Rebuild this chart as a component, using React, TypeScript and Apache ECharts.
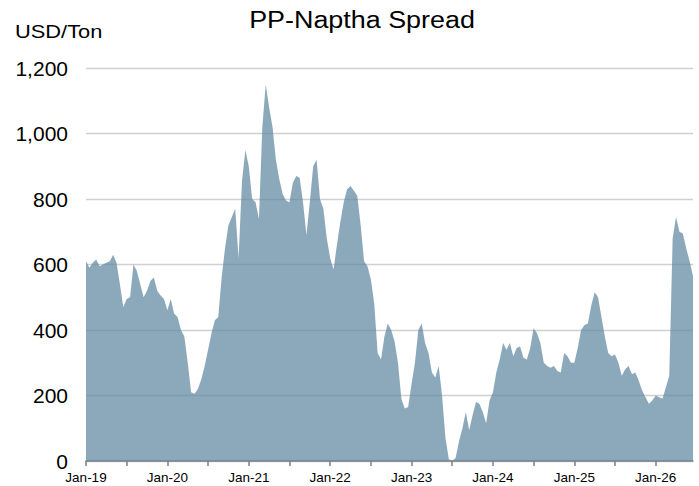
import React, { useEffect, useRef } from "react";
import * as echarts from "echarts";

const MONTHS = ["Jan", "Feb", "Mar", "Apr", "May", "Jun", "Jul", "Aug", "Sep", "Oct", "Nov", "Dec"];
const START_YEAR = 2019;
const POINT_COUNT = 180; // semi-monthly points, Jan-19 .. Jun-26

const spreadValues: number[] = [
  // 2019
  610, 590, 605, 615, 595, 600, 605, 610, 630, 605, 540, 470,
  495, 500, 600, 580, 540, 500, 520, 550, 560, 520, 505, 495,
  // 2020
  460, 495, 450, 440, 400, 380, 300, 210, 205, 220, 250, 290,
  340, 390, 430, 440, 560, 650, 720, 745, 770, 620, 855, 950,
  // 2021
  900, 800, 790, 740, 1020, 1150, 1080, 1020, 920, 860, 815, 795,
  790, 850, 870, 865, 790, 690, 790, 900, 920, 800, 770, 680,
  // 2022
  620, 585, 660, 730, 790, 830, 840, 825, 810, 720, 610, 595,
  555, 480, 330, 310, 380, 420, 400, 365, 300, 190, 160, 165,
  // 2023
  235, 300, 400, 420, 360, 330, 270, 255, 290, 200, 70, 5,
  0, 10, 60, 100, 150, 95, 140, 180, 175, 150, 115, 185,
  // 2024
  210, 270, 310, 360, 340, 360, 320, 345, 350, 315, 310, 345,
  405, 390, 360, 300, 290, 285, 290, 275, 270, 330, 320, 300,
  // 2025
  300, 345, 400, 415, 420, 475, 515, 500, 440, 380, 330, 320,
  325, 300, 260, 280, 290, 265, 270, 245, 215, 195, 175, 185,
  // 2026
  200, 195, 190, 225, 260, 680, 745, 700, 695, 650, 610, 565,
];

const yTicks = [0, 200, 400, 600, 800, 1000, 1200];

const dateCategories: string[] = Array.from({ length: POINT_COUNT }, (_, i) => {
  const y = START_YEAR + Math.floor(i / 24);
  const m = Math.floor((i % 24) / 2);
  const d = i % 2 === 0 ? "01" : "15";
  return `${y}-${String(m + 1).padStart(2, "0")}-${d}`;
});

const TITLE = "PP-Naptha Spread";
const UNIT = "USD/Ton";

export default function App() {
  const ref = useRef<HTMLDivElement>(null);

  useEffect(() => {
    if (!ref.current) return;
    const chart = echarts.init(ref.current, undefined, { renderer: "svg" });
    const font = "'Liberation Sans', Arial, sans-serif";
    chart.setOption({
      animation: false,
      backgroundColor: "#ffffff",
      textStyle: { fontFamily: font },
      grid: {
        left: 86,
        right: 6,
        top: 68,
        bottom: 25,
        containLabel: false,
        outerBoundsMode: "none",
      },
      graphic: [
        {
          type: "text",
          x: 362,
          y: 20,
          scaleX: 1.17,
          style: {
            text: TITLE,
            fontSize: 23,
            fontFamily: font,
            fill: "#000000",
            textAlign: "center",
            textVerticalAlign: "middle",
          },
        },
        {
          type: "text",
          x: 15,
          y: 31,
          scaleX: 1.15,
          style: {
            text: UNIT,
            fontSize: 19,
            fontFamily: font,
            fill: "#000000",
            textAlign: "left",
            textVerticalAlign: "middle",
          },
        },
      ],
      xAxis: {
        type: "category",
        data: dateCategories,
        boundaryGap: false,
        axisLine: { show: true, lineStyle: { color: "#7f7f7f", width: 1.5 } },
        axisTick: {
          show: true,
          length: 5,
          interval: (index: number) => index % 12 === 0,
          lineStyle: { color: "#7f7f7f", width: 1.5 },
        },
        axisLabel: {
          interval: (index: number) => index % 24 === 0,
          formatter: (v: string) => {
            const [y, m] = v.split("-");
            return `${MONTHS[Number(m) - 1]}-${y.slice(2)}`;
          },
          fontSize: 13.5,
          color: "#000000",
          margin: 9,
          fontFamily: font,
        },
        splitLine: { show: false },
      },
      yAxis: {
        type: "value",
        min: yTicks[0],
        max: yTicks[yTicks.length - 1],
        interval: 200,
        axisLine: { show: false },
        axisTick: { show: false },
        axisLabel: {
          fontSize: 21,
          color: "#000000",
          margin: 18,
          fontFamily: font,
          formatter: (v: number) => v.toLocaleString("en-US"),
        },
        splitLine: { show: true, lineStyle: { color: "#d0d0d0", width: 1.3 } },
      },
      series: [
        {
          type: "line",
          data: spreadValues,
          symbol: "none",
          lineStyle: { width: 0 },
          areaStyle: { color: "rgba(97,137,162,0.73)", opacity: 1 },
        },
      ],
    });
    return () => chart.dispose();
  }, []);

  return (
    <div
      ref={ref}
      style={{ position: "fixed", left: 0, top: 0, width: 699, height: 486 }}
    />
  );
}
